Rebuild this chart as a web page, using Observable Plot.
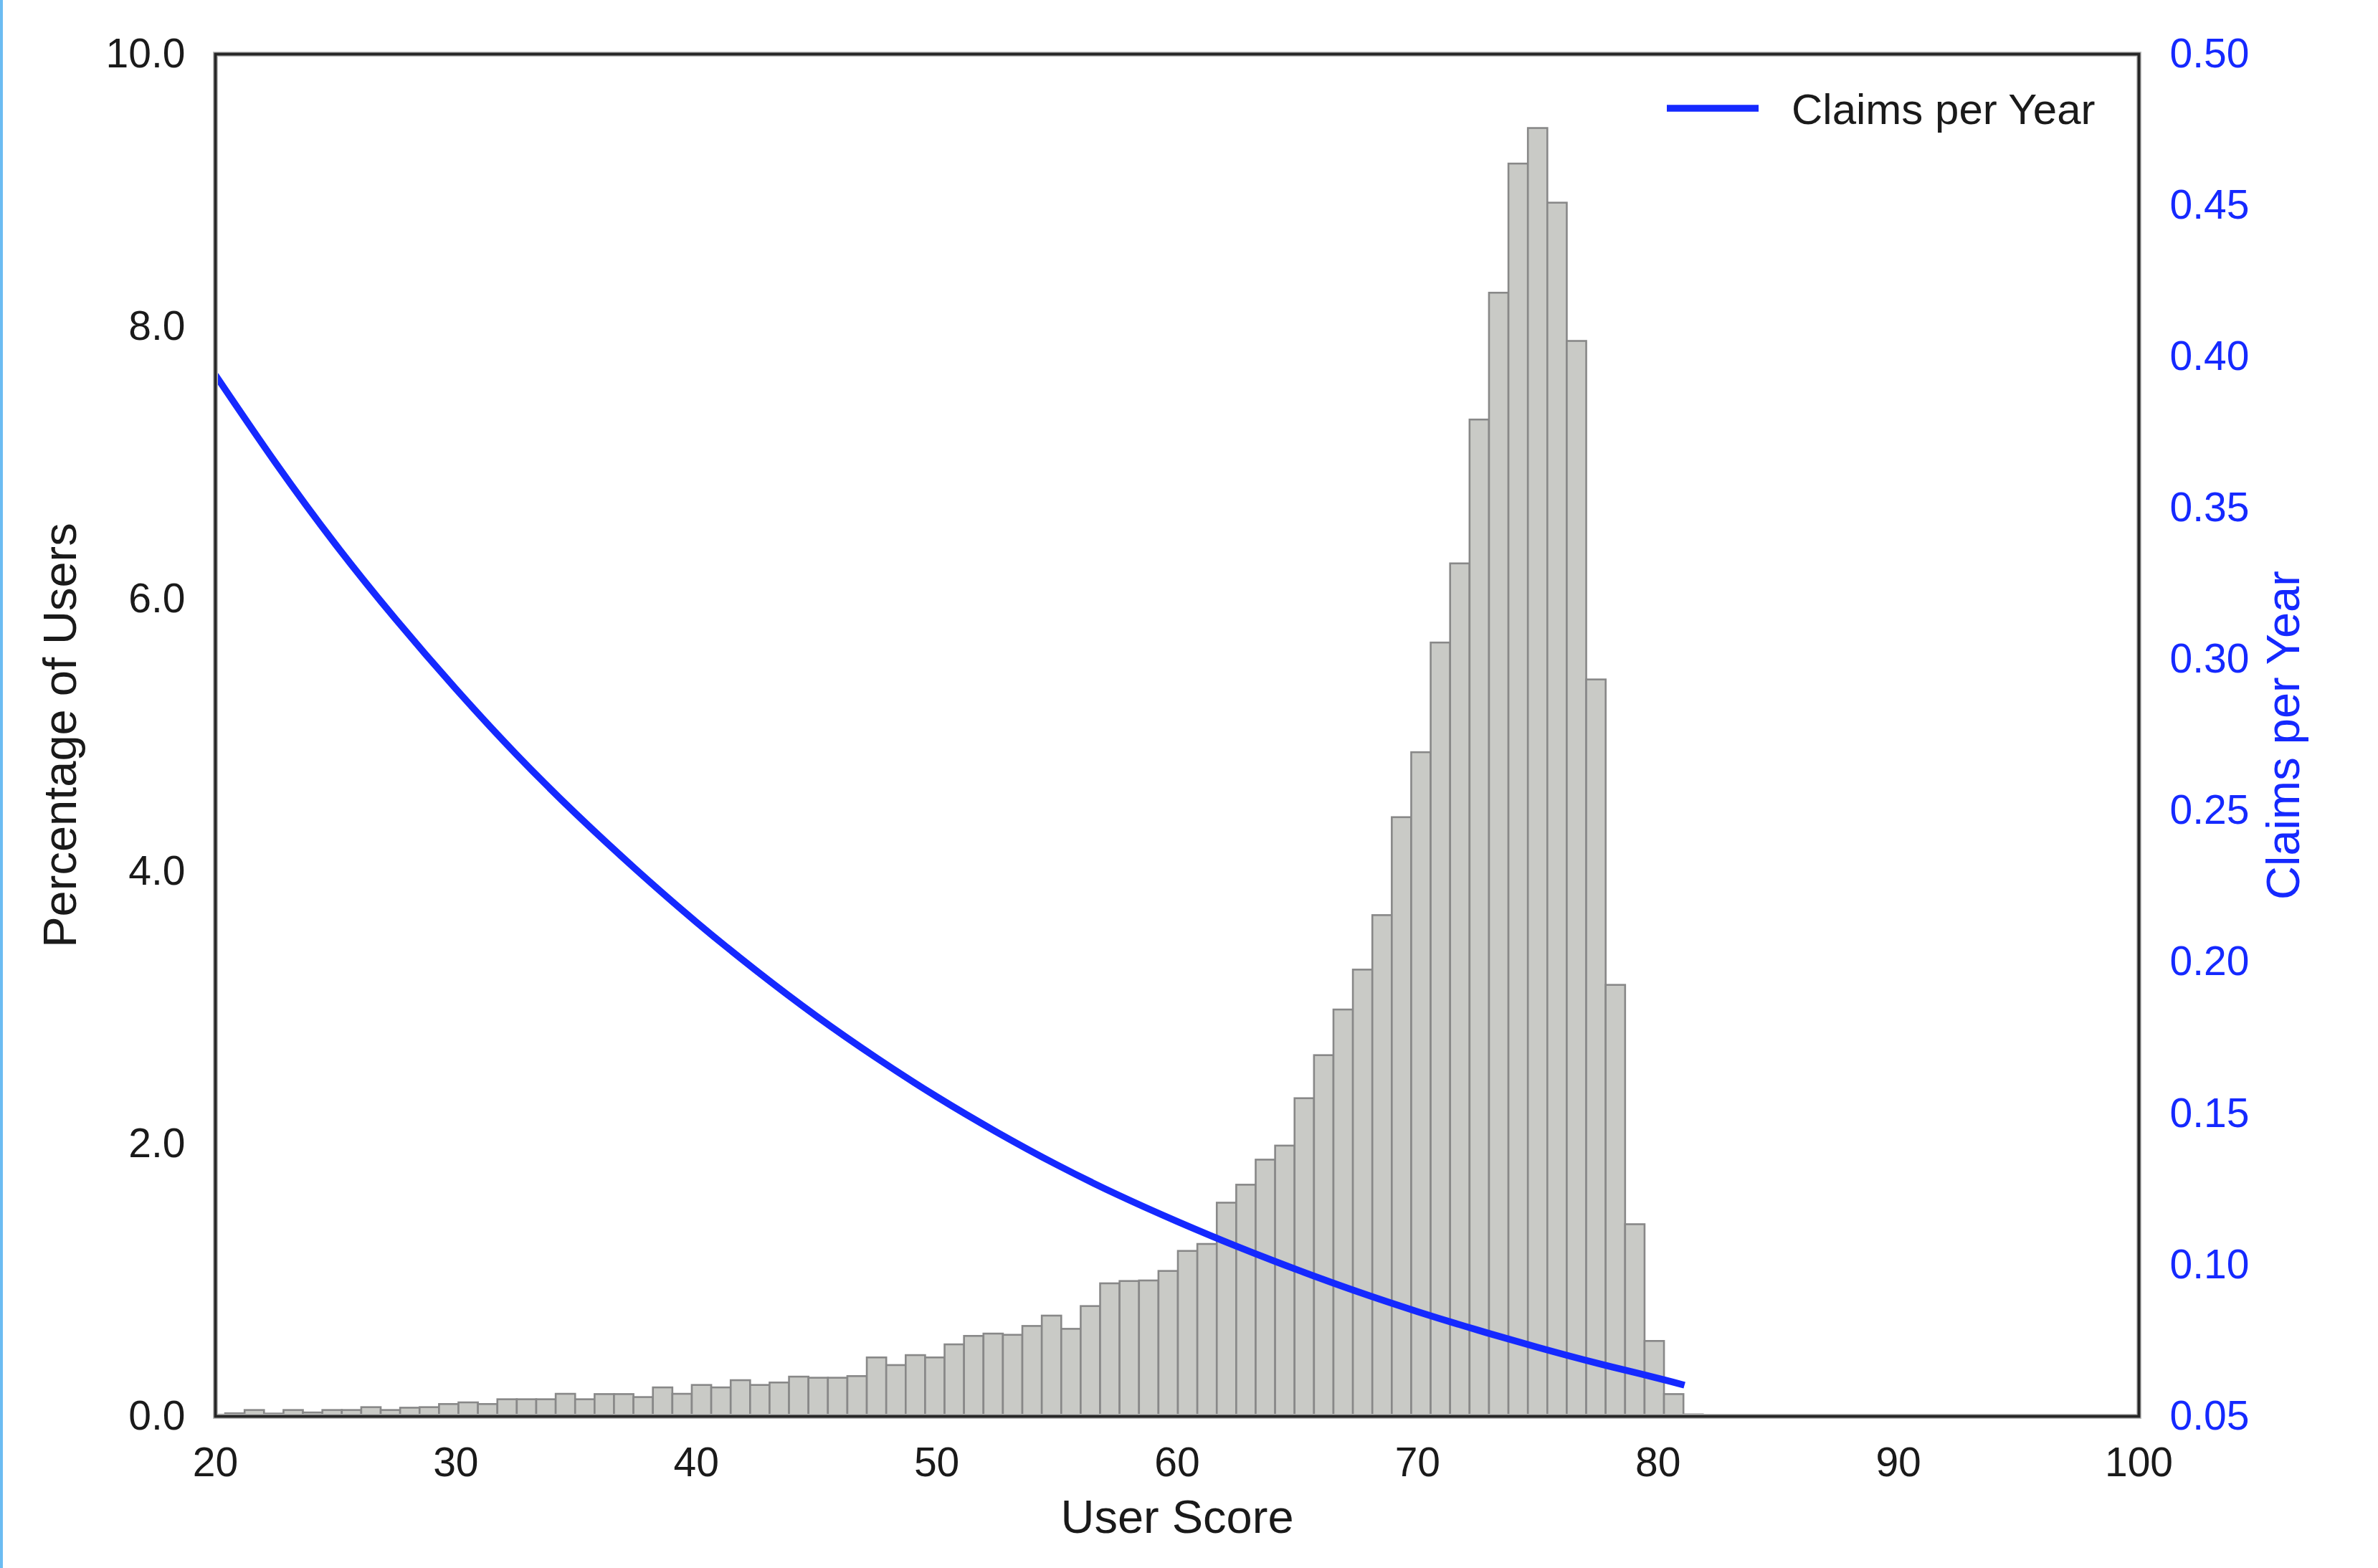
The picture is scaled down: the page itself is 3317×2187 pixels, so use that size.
<!DOCTYPE html>
<html>
<head>
<meta charset="utf-8">
<script src="https://cdn.jsdelivr.net/npm/d3@7"></script>
<script src="https://cdn.jsdelivr.net/npm/@observablehq/plot@0.6"></script>
<style>
  html, body { margin: 0; padding: 0; background: #ffffff; }
  #chart { position: absolute; left: 0; top: 0; }
  #stripe { position: absolute; left: 0; top: 0; width: 4px; height: 2187px; background: #6cbcf2; }
</style>
</head>
<body>
<div id="chart"></div>
<div id="stripe"></div>
<script>
// ---- Data ----
// Histogram: bins of equal width, first bin left edge
const binFirstEdge = 19.61;
const binWidth = 0.8087;
// Percentage of users per bin
const userPct = [
  0.010, 0.020, 0.044, 0.018, 0.044, 0.026, 0.044, 0.044, 0.065, 0.044,
  0.061, 0.065, 0.088, 0.100, 0.088, 0.123, 0.123, 0.123, 0.163, 0.123,
  0.161, 0.161, 0.139, 0.210, 0.163, 0.228, 0.210, 0.263, 0.228, 0.246,
  0.289, 0.281, 0.281, 0.293, 0.430, 0.374, 0.447, 0.430, 0.526, 0.588,
  0.605, 0.596, 0.661, 0.737, 0.640, 0.807, 0.974, 0.991, 0.995, 1.065,
  1.212, 1.263, 1.566, 1.698, 1.882, 1.985, 2.333, 2.649, 2.984, 3.277,
  3.677, 4.396, 4.873, 5.678, 6.259, 7.315, 8.246, 9.194, 9.455, 8.907,
  7.892, 5.407, 3.165, 1.408, 0.551, 0.161, 0.012
];
// Claims per year curve (user score -> claims per year)
const claimScore = [20, 22.5, 25, 27.5, 30, 32.5, 35, 37.5, 40, 42.5, 45, 47.5, 50,
  52.5, 55, 57.5, 60, 62.5, 65, 67.5, 70, 72.5, 75, 77.5, 80, 81.1];
const claimRate = [0.394, 0.365, 0.338, 0.3133, 0.2903, 0.2688, 0.2490, 0.2306, 0.2133, 0.1972,
  0.1822, 0.1684, 0.1556, 0.1439, 0.1331, 0.1233, 0.1144, 0.1061, 0.0984, 0.0912,
  0.0846, 0.0785, 0.0728, 0.0675, 0.0626, 0.0603];

const xTicks = [20, 30, 40, 50, 60, 70, 80, 90, 100];
const leftTicks = [0, 2, 4, 6, 8, 10];
const rightTicks = [0.05, 0.10, 0.15, 0.20, 0.25, 0.30, 0.35, 0.40, 0.45, 0.50];
const xLabel = "User Score";
const yLabel = "Percentage of Users";
const y2Label = "Claims per Year";
const legendLabel = "Claims per Year";

// ---- Styles ----
const BLUE = "#1529ff";
const INK = "#1a1a1a";
const FONT = "'Liberation Sans', Arial, Helvetica, sans-serif";

// Right axis domain mapped onto the left axis domain
const leftDomain = [0, 10];
const rightDomain = [0.05, 0.50];
const toLeft = c => (c - rightDomain[0]) / (rightDomain[1] - rightDomain[0]) * (leftDomain[1] - leftDomain[0]) + leftDomain[0];
const fromLeft = v => (v - leftDomain[0]) / (leftDomain[1] - leftDomain[0]) * (rightDomain[1] - rightDomain[0]) + rightDomain[0];

const bins = userPct.map((h, i) => ({
  x1: binFirstEdge + i * binWidth,
  x2: binFirstEdge + (i + 1) * binWidth,
  h
}));
const claims = claimScore.map((s, i) => ({ s, c: toLeft(claimRate[i]) }));

const W = 3317, H = 2187;
const mL = 300, mR = 334, mT = 75, mB = 212;

const chart = Plot.plot({
  width: W,
  height: H,
  marginLeft: mL,
  marginRight: mR,
  marginTop: mT,
  marginBottom: mB,
  style: { fontFamily: FONT, fontSize: "57px", color: INK, background: "#ffffff", overflow: "visible" },
  x: { domain: [20, 100] },
  y: { domain: leftDomain },
  marks: [
    Plot.rect(bins, {
      x1: "x1", x2: "x2", y1: 0, y2: "h",
      fill: "#c9cac6", stroke: "#888888", strokeWidth: 2.6, inset: 0, clip: true
    }),
    Plot.line(claims, {
      x: "s", y: "c", stroke: BLUE, strokeWidth: 9.5, curve: "natural",
      strokeLinecap: "butt", clip: true
    }),
    Plot.axisX({ ticks: xTicks, tickSize: 0, tickPadding: 43, label: null, tickFormat: d => String(d), fontSize: 57, fill: INK }),
    Plot.axisY({ ticks: leftTicks, tickSize: 0, tickPadding: 42, label: null, tickFormat: d3.format(".1f"), fontSize: 57, fill: INK }),
    Plot.axisY(rightTicks.map(toLeft), {
      anchor: "right", tickSize: 0, tickPadding: 43, label: null,
      tickFormat: d => d3.format(".2f")(fromLeft(d)), fontSize: 57, fill: BLUE
    }),
    Plot.text([yLabel], { text: d => d, frameAnchor: "left", textAnchor: "middle", dx: -215.5, rotate: -90, fontSize: 65, fill: INK }),
    Plot.text([y2Label], { text: d => d, frameAnchor: "right", textAnchor: "middle", dx: 202.5, rotate: -90, fontSize: 65, fill: BLUE }),
    Plot.text([xLabel], { text: d => d, frameAnchor: "bottom", textAnchor: "middle", dy: 162.5, fontSize: 65, fill: INK }),
    Plot.frame({ stroke: "#bdbdbd", strokeWidth: 7 }),
    Plot.frame({ stroke: "#262626", strokeWidth: 4 })
  ]
});

document.getElementById("chart").appendChild(chart);

// Legend (upper right, inside the frame)
const svg = d3.select(chart);
const lg = svg.append("g").attr("class", "legend");
lg.append("line")
  .attr("x1", 2325).attr("x2", 2453)
  .attr("y1", 151).attr("y2", 151)
  .attr("stroke", BLUE).attr("stroke-width", 9.5);
lg.append("text")
  .attr("x", 2499).attr("y", 173)
  .attr("text-anchor", "start")
  .attr("font-family", FONT).attr("font-size", 60)
  .attr("fill", INK)
  .text(legendLabel);
</script>
</body>
</html>
